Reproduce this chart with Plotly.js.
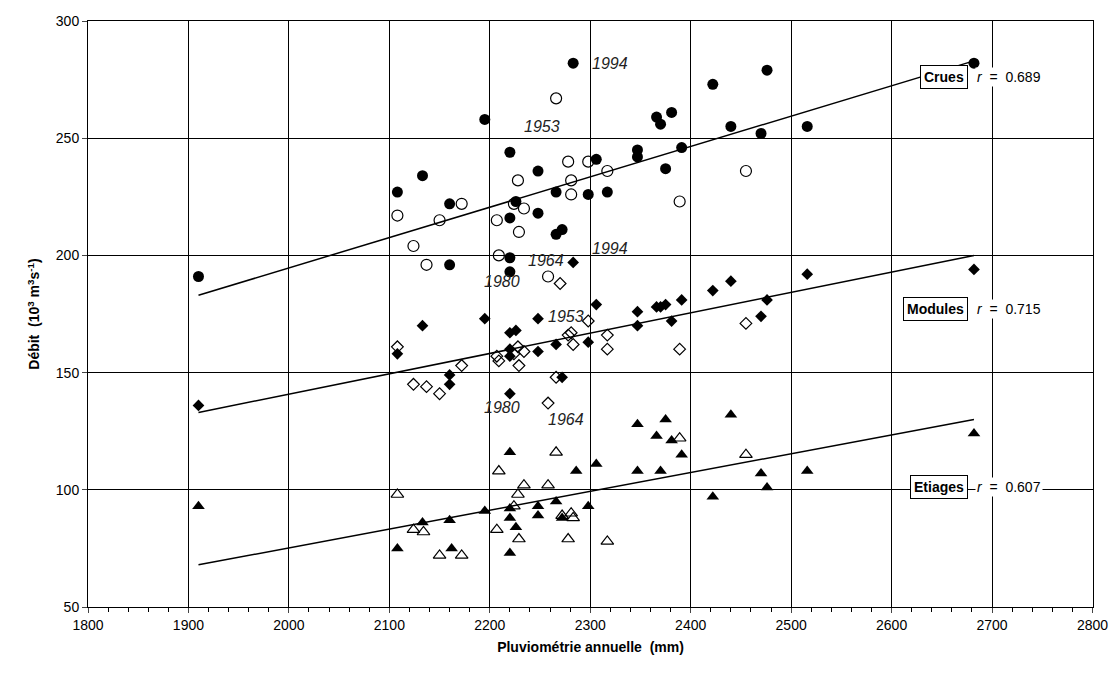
<!DOCTYPE html>
<html><head><meta charset="utf-8">
<script src="https://cdn.plot.ly/plotly-3.0.1.min.js"></script>
<style>body{margin:0}</style></head>
<body><div id="chart" style="width:1111px;height:673px"></div>
<script>
// Crues
var cruesX = [1910,2108,2133,2160,2160,2195,2220,2220,2220,2220,2226,2248,2248,2266,2266,2272,2283,2298,2306,2317,2347,2347,2366,2370,2375,2381,2391,2422,2440,2470,2476,2516,2682];
var cruesY = [191,227,234,222,196,258,244,216,199,193,223,236,218,227,209,211,282,226,241,227,245,242,259,256,237,261,246,273,255,252,279,255,282];
var cruesOX = [2108,2124,2137,2150,2172,2207,2209,2224,2228,2229,2234,2258,2266,2278,2281,2281,2298,2317,2389,2455];
var cruesOY = [217,204,196,215,222,215,200,222,232,210,220,191,267,240,232,226,240,236,223,236];
// Modules
var modX = [1910,2108,2133,2160,2160,2195,2220,2220,2220,2220,2226,2248,2248,2266,2272,2283,2298,2306,2347,2347,2366,2370,2375,2381,2391,2422,2440,2470,2476,2516,2682];
var modY = [136,158,170,149,145,173,167,160,157,141,168,173,159,162,148,197,163,179,176,170,178,178,179,172,181,185,189,174,181,192,194];
var modOX = [2108,2124,2137,2150,2172,2207,2209,2224,2228,2229,2234,2258,2266,2270,2278,2281,2283,2298,2317,2317,2389,2455];
var modOY = [161,145,144,141,153,157,155,158,161,153,159,137,148,188,166,167,162,172,166,160,160,171];
// Etiages
var etiX = [1910,2108,2133,2160,2162,2195,2220,2220,2220,2220,2226,2248,2248,2266,2272,2286,2298,2306,2347,2347,2366,2370,2375,2381,2391,2422,2440,2470,2476,2516,2682];
var etiY = [93,75,86,87,75,91,116,92,88,73,84,93,89,95,88,108,93,111,128,108,123,108,130,121,115,97,132,107,101,108,124];
var etiOX = [2108,2124,2134,2150,2172,2207,2209,2224,2228,2229,2234,2258,2266,2272,2278,2281,2283,2317,2389,2455];
var etiOY = [98,83,82,72,72,83,108,93,98,79,102,102,116,89,79,90,88,78,122,115];
// regression lines (end points)
var lineX = [1910,2682];
var cruesFit = [183,283];
var modFit = [133,200];
var etiFit = [68,130];

function pts(x,y,sym,size){
  var open = sym.indexOf('open')>=0;
  return {x:x,y:y,mode:'markers',type:'scatter',hoverinfo:'x+y',
    marker:{symbol:sym,size:size,color:'black',line:{color:'black',width:open?1.2:0}}};
}
function fit(y){return {x:lineX,y:y,mode:'lines',type:'scatter',line:{color:'black',width:1.5}};}
var data = [
  fit(cruesFit),fit(modFit),fit(etiFit),
  pts(cruesOX,cruesOY,'circle-open',11),pts(cruesX,cruesY,'circle',11),
  pts(modOX,modOY,'diamond-open',9),pts(modX,modY,'diamond',9),
  pts(etiOX,etiOY,'triangle-up-open',11),pts(etiX,etiY,'triangle-up',11)
];
var f = {family:'Liberation Sans, Arial',size:14,color:'black'};
function yr(t,x,y){return {text:'<i>'+t+'</i>',x:x,y:y,showarrow:false,xanchor:'left',font:{family:'Liberation Sans, Arial',size:16,color:'#222'}};}
function box(t,x,y){return {text:'<b>'+t+'</b>',x:x,y:y,showarrow:false,xanchor:'right',bordercolor:'black',borderwidth:1,bgcolor:'white',borderpad:3,font:f};}
function rr(t,x,y){return {text:'<i>r</i>  =  '+t,x:x,y:y,showarrow:false,xanchor:'left',bgcolor:'white',font:f};}
var ann = [
  yr('1994',2300,282), yr('1953',2232,255), yr('1994',2300,203), yr('1964',2236,198), yr('1980',2192,189),
  yr('1953',2256,174), yr('1980',2192,135), yr('1964',2256,130),
  box('Crues',2676,276), rr('0.689',2683,276),
  box('Modules',2676,177), rr('0.715',2683,177),
  box('Etiages',2676,101), rr('0.607',2683,101)
];
var layout = {
  margin:{l:88,r:18,t:21,b:66},
  paper_bgcolor:'white',plot_bgcolor:'white',showlegend:false,
  xaxis:{range:[1800,2800.5],tickvals:[1800,1900,2000,2100,2200,2300,2400,2500,2600,2700,2800],showgrid:true,gridcolor:'black',gridwidth:1,
    showline:true,linecolor:'black',mirror:true,ticks:'outside',ticklen:5,zeroline:false,
    minor:{dtick:20,ticks:'outside',ticklen:4,tickcolor:'black',showgrid:false},
    tickfont:f,title:{text:'<b>Pluviométrie annuelle  (mm)</b>',font:{family:'Liberation Sans, Arial',size:14,color:'black'},standoff:10}},
  yaxis:{range:[50,300],dtick:50,showgrid:true,gridcolor:'black',gridwidth:1,
    showline:true,linecolor:'black',mirror:true,ticks:'outside',ticklen:5,zeroline:false,
    tickfont:f,title:{text:'<b>Débit  (10<sup>3</sup> m<sup>3</sup>s<sup>-1</sup>)</b>',font:{family:'Liberation Sans, Arial',size:14,color:'black'},standoff:12}},
  annotations:ann
};
Plotly.newPlot('chart',data,layout,{displayModeBar:false});
</script></body></html>
